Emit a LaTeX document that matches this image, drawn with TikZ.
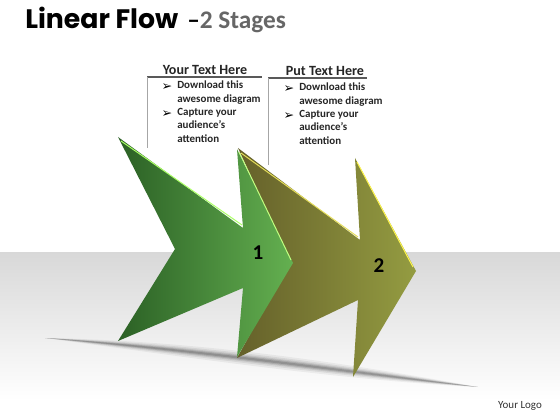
\documentclass[tikz,border=0pt]{standalone}
\usepackage{fontspec}
\setmainfont{Carlito}
\newfontfamily\titlefont{Poppins}
\newfontfamily\symfont{DejaVu Sans}
\usetikzlibrary{positioning}
\definecolor{darkgreen}{HTML}{2B6025}
\definecolor{lightgreen}{HTML}{64B050}
\definecolor{darkolive}{HTML}{65602A}
\definecolor{lightolive}{HTML}{949C41}
\definecolor{floorgray}{HTML}{D8D8D8}
\tikzset{
  heading/.style={font=\bfseries\fontsize{10}{12}\selectfont, text=black!85},
  item/.style={anchor=north west, align=left, inner sep=0pt, font=\bfseries\fontsize{7.8}{9.6}\selectfont, text=black!85},
  bul/.style={inner sep=0pt, font=\symfont\fontsize{9}{9}\selectfont},
  stage/.style={font=\bfseries\fontsize{15}{15}\selectfont},
  rule/.style={draw=black!65, line width=0.8pt},
  post/.style={draw=black!35, line width=0.4pt},
}
\begin{document}
\begin{tikzpicture}[x=0.025cm, y=-0.025cm]
            \useasboundingbox (0,0) rectangle (560,420);
            % Floor
            \fill[white] (0,0) rectangle (560,420);
            \shade[top color=floorgray, bottom color=white] (0,252) rectangle (560,400);
            \foreach \h/\o in {9/0.05,6.5/0.07,4.5/0.09,3/0.12,1.5/0.15}
              \fill[black, opacity=\o] (45,338) .. controls (200,350-\h) and (340,371-\h) .. (478,387)
                .. controls (340,371+\h) and (200,350+\h) .. cycle;
            % Title
            \node[anchor=base west, inner sep=0pt, font=\titlefont\bfseries\fontsize{19}{22}\selectfont] (title) at (25,29) {Linear Flow};
            \node[anchor=base west, inner sep=0pt, font=\bfseries\fontsize{18}{20}\selectfont, text=black!60] (sub) at (187,29) {\textcolor{black}{–}2 Stages};
            % Text boxes
            \node[heading] (head1) at (205,70) {Your Text Here};
            \node[heading] (head2) at (325,71) {Put Text Here};
            \draw[rule] (147,77) -- (262,77);
            \draw[post] (147,77) -- (147,148);
            \draw[rule] (268,78) -- (367,78);
            \draw[post] (268,78) -- (268,165);
            \node[bul] (b1) at (167,87) {➢};
            \node[bul] (b2) at (167,114) {➢};
            \node[item] (t1) at (177,81) {Download this\\awesome diagram};
            \node[item] (t2) at (177,108) {Capture your\\audience’s\\attention};
            \node[bul] (b3) at (289,89) {➢};
            \node[bul] (b4) at (289,116) {➢};
            \node[item] (t3) at (299,83) {Download this\\awesome diagram};
            \node[item] (t4) at (299,110) {Capture your\\audience’s\\attention};
            % Arrow 2
            \shade[left color=darkolive, right color=lightolive] (238,148) -- (360,240) -- (355,158) -- (416,271) -- (353,377) -- (358,300) -- (237,358) -- (290,262) -- cycle;
            \draw[line width=0.7pt, color=yellow!60!olive!60!white] (241,153) -- (358,237);
            \draw[line width=0.7pt, color=yellow!70!white] (357,162) -- (413,267);
            % Arrow 1
            \shade[left color=darkgreen, right color=lightgreen] (118,137) -- (243,228) -- (237,149) -- (293,263) -- (237,357) -- (243,288) -- (118,341) -- (175,249) -- cycle;
            \draw[line width=0.7pt, color=green!40!lime!60!white] (121,141) -- (242,225);
            \draw[line width=0.7pt, color=green!30!lime!50!white] (239,152) -- (291,260);
            % Stages
            \node[stage] (n1) at (258,253) {1};
            \node[stage] (n2) at (379,266) {2};
            \node[font=\fontsize{7.8}{9}\selectfont, text=black!80] (logo) at (520,406) {Your Logo};
        \end{tikzpicture}
\end{document}
